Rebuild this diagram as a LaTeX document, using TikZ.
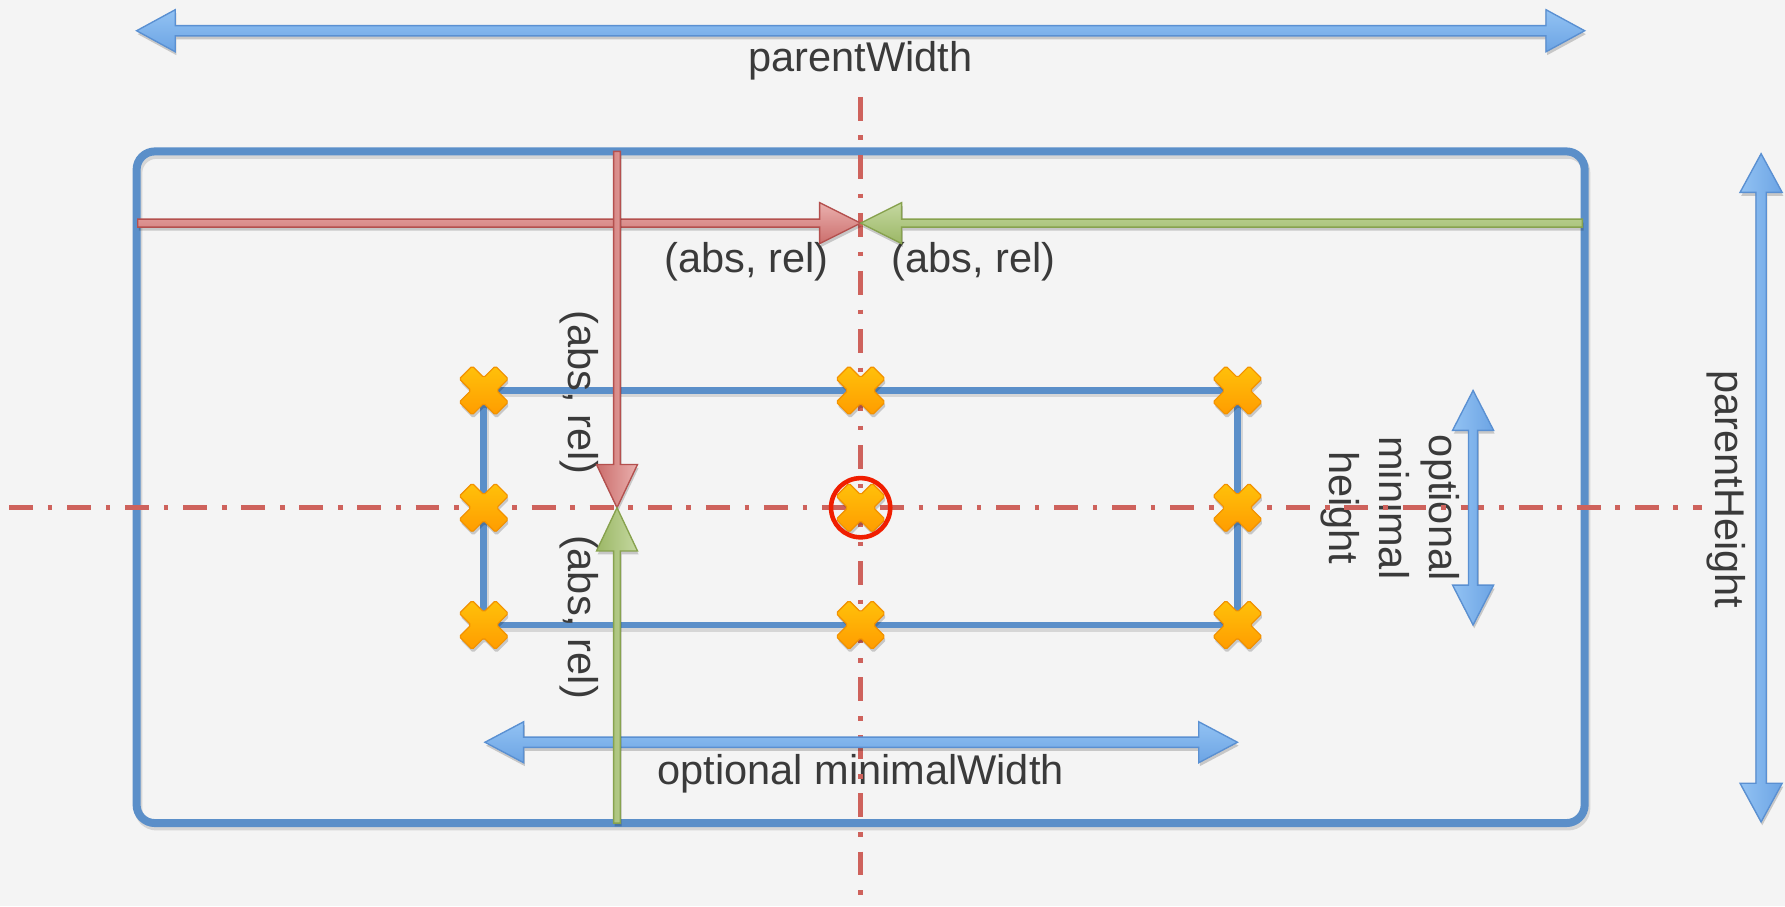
\documentclass[tikz,border=0pt]{standalone}
\usepackage{fontspec}
\setmainfont{Liberation Sans}
\usetikzlibrary{shadows}
\definecolor{bg}{HTML}{F4F4F4}
\definecolor{boxblue}{HTML}{5B8FC9}
\definecolor{arrblueL}{HTML}{92C2F3}
\definecolor{arrblueD}{HTML}{6CA4E4}
\definecolor{arrblueB}{HTML}{5A90D2}
\definecolor{dashred}{RGB}{206,98,92}
\definecolor{redL}{HTML}{EAB0AE}
\definecolor{redD}{HTML}{CB6E6C}
\definecolor{redB}{HTML}{B4504E}
\definecolor{grnL}{HTML}{C4D8A0}
\definecolor{grnD}{HTML}{9CB766}
\definecolor{grnB}{HTML}{87A24E}
\definecolor{orL}{HTML}{FFC10A}
\definecolor{orD}{HTML}{FF9C00}
\definecolor{orB}{HTML}{F39200}
\definecolor{txt}{HTML}{3A3A3A}
\definecolor{ring}{HTML}{F01E00}
% double-headed horizontal block arrow: style, left tip, left base, right base, right tip, y, half shaft, half head
\newcommand{\dblH}[8]{\filldraw[#1] (#2,#6) -- (#3,{#6-#8}) -- (#3,{#6-#7}) -- (#4,{#6-#7}) -- (#4,{#6-#8}) -- (#5,#6) -- (#4,{#6+#8}) -- (#4,{#6+#7}) -- (#3,{#6+#7}) -- (#3,{#6+#8}) -- cycle;}
% double-headed vertical block arrow: style, top tip, top base, bottom base, bottom tip, x, half shaft, half head
\newcommand{\dblV}[8]{\filldraw[#1] (#6,#2) -- ({#6-#8},#3) -- ({#6-#7},#3) -- ({#6-#7},#4) -- ({#6-#8},#4) -- (#6,#5) -- ({#6+#8},#4) -- ({#6+#7},#4) -- ({#6+#7},#3) -- ({#6+#8},#3) -- cycle;}
% single horizontal block arrow: style, tail x, head base x, tip x, y, half shaft, half head
\newcommand{\oneH}[7]{\filldraw[#1] (#2,{#5-#6}) -- (#3,{#5-#6}) -- (#3,{#5-#7}) -- (#4,#5) -- (#3,{#5+#7}) -- (#3,{#5+#6}) -- (#2,{#5+#6}) -- cycle;}
% single vertical block arrow: style, tail y, head base y, tip y, x, half shaft, half head
\newcommand{\oneV}[7]{\filldraw[#1] ({#5-#6},#2) -- ({#5-#6},#3) -- ({#5-#7},#3) -- (#5,#4) -- ({#5+#7},#3) -- ({#5+#6},#3) -- ({#5+#6},#2) -- cycle;}
\tikzset{
  sh/.style={drop shadow={shadow xshift=1pt, shadow yshift=-3pt, opacity=0.18, fill=black}},
  blueArr/.style={sh, top color=arrblueL, bottom color=arrblueD, draw=arrblueB, line width=1.2, line join=miter},
  blueArrV/.style={sh, left color=arrblueL, right color=arrblueD, draw=arrblueB, line width=1.2},
  redArr/.style={sh, top color=redL, bottom color=redD, draw=redB, line width=1.2},
  redArrV/.style={sh, right color=redL, left color=redD, draw=redB, line width=1.2},
  grnArr/.style={sh, top color=grnL, bottom color=grnD, draw=grnB, line width=1.2},
  grnArrV/.style={sh, right color=grnL, left color=grnD, draw=grnB, line width=1.2},
  dashline/.style={dashred, line width=4.5, dash pattern=on 21pt off 13pt on 4pt off 13pt},
  lbl/.style={text=txt, inner sep=0, font=\fontsize{36.5}{44}\selectfont},
  xmark/.pic={\filldraw[top color=orL, bottom color=orD, draw=orB, line width=1, rounded corners=1.5, sh]
     (10.2,21.5) -- (0,11.3) -- (-10.2,21.5) -- (-21.5,10.2) -- (-11.3,0) -- (-21.5,-10.2) -- (-10.2,-21.5) -- (0,-11.3)
     -- (10.2,-21.5) -- (21.5,-10.2) -- (11.3,0) -- (21.5,10.2) -- cycle;}
}
\begin{document}
\begin{tikzpicture}[x=1pt,y=-1pt]
\fill[bg] (0,0) rectangle (1568,796);
\useasboundingbox (0,0) rectangle (1568,796);
% rectangles with soft shadow
\draw[black, opacity=0.12, line width=7, rounded corners=16] (121.5,136) rectangle (1393.5,726);
\draw[boxblue, line width=7, rounded corners=16] (120,133) rectangle (1392,723);
\draw[black, opacity=0.12, line width=6] (426.5,346) rectangle (1088.5,552);
\draw[boxblue, line width=6] (425,343) rectangle (1087,549);
% labels
\node[lbl, anchor=base] (pw) at (756,63) {parentWidth};
\node[lbl, anchor=base] (ar1) at (656,239) {(abs, rel)};
\node[lbl, anchor=base] (ar2) at (855,239) {(abs, rel)};
\node[lbl, anchor=base, rotate=-90] (ar3) at (499,345) {(abs, rel)};
\node[lbl, anchor=base, rotate=-90] (ar4) at (499,542) {(abs, rel)};
\node[lbl, anchor=base] (mw) at (756,689) {optional minimalWidth};
\node[lbl, anchor=base, rotate=-90] (ph) at (1507,430) {parentHeight};
\node[lbl, rotate=-90, align=center] (mh) at (1221,446) {optional\\minimal\\height};
% centre lines
\draw[dashline] (756,85) -- (756,800);
\draw[dashline] (8,446) -- (1495,446);
% dimension arrows
\dblH{blueArr}{120}{154}{1358}{1392}{27}{4.5}{18.5}
\dblV{blueArrV}{135}{169}{688}{722}{1547}{4.5}{18.5}
\dblV{blueArrV}{343}{378}{514}{549}{1294}{4}{18}
\dblH{blueArr}{426}{460}{1053}{1087}{652}{4.5}{18}
% offset arrows
\oneH{redArr}{121}{720}{756}{196}{3.5}{18}
\oneH{grnArr}{1390}{792}{756}{196}{3.5}{18}
\oneV{redArrV}{133}{408}{446}{542}{3}{18}
\oneV{grnArrV}{723}{484}{446}{542}{3}{18}
% anchor points
\foreach \px in {425,756,1087}{
  \foreach \py in {343,446,549}{
    \pic at (\px,\py) {xmark};
  }
}
\draw[ring, line width=4] (756,446) circle[radius=26];
\end{tikzpicture}
\end{document}
